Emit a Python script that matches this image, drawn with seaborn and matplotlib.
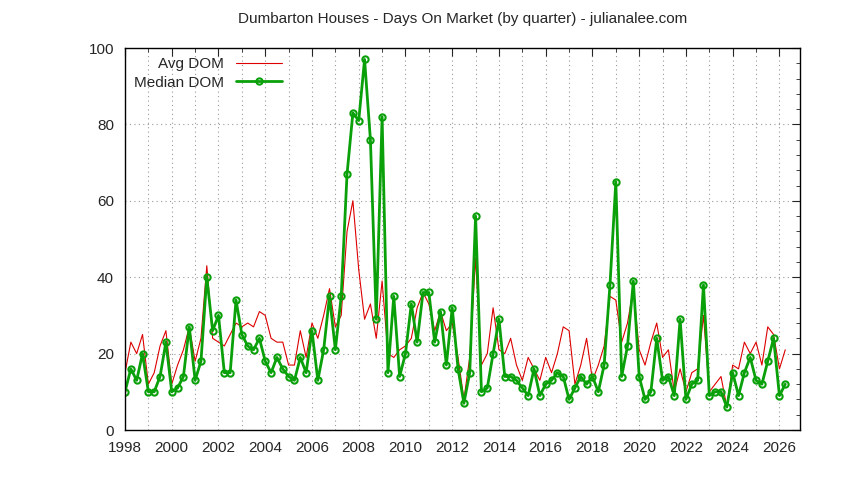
import matplotlib
matplotlib.use("Agg")
import matplotlib.pyplot as plt
import seaborn as sns
import pandas as pd
import numpy as np

median_dom = [10,16,13,20,10,10,14,23,10,11,
 14,27,13,18,40,26,30,15,15,34,
 25,22,21,24,18,15,19,16,14,13,
 19,15,26,13,21,35,21,35,67,83,
 81,97,76,29,82,15,35,14,20,33,
 23,36,36,23,31,17,32,16,7,15,
 56,10,11,20,29,14,14,13,11,9,
 16,9,12,13,15,14,8,11,14,12,
 14,10,17,38,65,14,22,39,14,8,
 10,24,13,14,9,29,8,12,13,38,
 9,10,10,6,15,9,15,19,13,12,
 18,24,9,12]
avg_dom = [15,23,20,25,12,15,22,26,12,17,
 21,27,18,24,43,24,23,22,25,28,
 27,28,27,31,30,24,23,23,17,17,
 26,19,28,24,30,37,27,30,52,60,
 42,29,33,24,39,20,19,21,22,24,
 32,36,33,26,31,26,28,19,8,19,
 45,17,20,32,21,20,24,17,13,19,
 16,13,19,15,20,27,26,12,17,24,
 13,17,22,35,34,23,28,37,21,17,
 23,28,19,21,10,16,10,15,16,30,
 10,12,14,6,17,16,23,20,23,17,
 27,25,16,21]
start_year = 1998

x = start_year + np.arange(len(median_dom)) / 4
df = pd.DataFrame({"x": x, "avg": avg_dom, "med": median_dom})

sns.set_style("white")
plt.rcParams['font.family'] = ['Liberation Sans', 'DejaVu Sans']
fig = plt.figure(figsize=(8.44, 4.8), dpi=100)
ax = fig.add_axes([125/844, 50/480, 675/844, 382/480])
sns.lineplot(data=df, x="x", y="avg", ax=ax, color="#dd0000", lw=0.8, label="Avg DOM")
sns.lineplot(data=df, x="x", y="med", ax=ax, color="#0aa00a", lw=2, marker="o",
             markersize=4.5, markerfacecolor="none", markeredgecolor="#0aa00a",
             markeredgewidth=1.5, label="Median DOM")
ax.set_xlim(1998, 2026.88)
ax.set_ylim(0, 100)
ax.set_xticks(range(1998, 2027, 2))
ax.set_yticks(range(0, 101, 20))
ax.set_yticks(range(0, 101, 4), minor=True)
ax.set_xticks(np.arange(1999, 2027, 2), minor=True)
ax.tick_params(which="both", direction="in", top=True, right=True, labelsize=11)
ax.tick_params(which="major", length=6)
ax.tick_params(which="minor", length=3)
ax.tick_params(axis="x", pad=8)
ax.tick_params(axis="y", pad=8)
ax.grid(True, which="major", linestyle=(0, (1, 3)), color="#999999", lw=0.8)
ax.grid(True, which="minor", axis="x", linestyle=(0, (1, 3)), color="#999999", lw=0.8)
for s in ax.spines.values():
    s.set_color("black"); s.set_linewidth(1)
ax.set_xlabel(""); ax.set_ylabel("")
ax.set_title("Dumbarton Houses - Days On Market (by quarter) - julianalee.com", fontsize=11, pad=18)
leg = ax.legend(loc="upper left", markerfirst=False, frameon=False, fontsize=11,
                handlelength=3, borderaxespad=0.2, labelspacing=0.3)
fig.savefig("out.png", dpi=100)
